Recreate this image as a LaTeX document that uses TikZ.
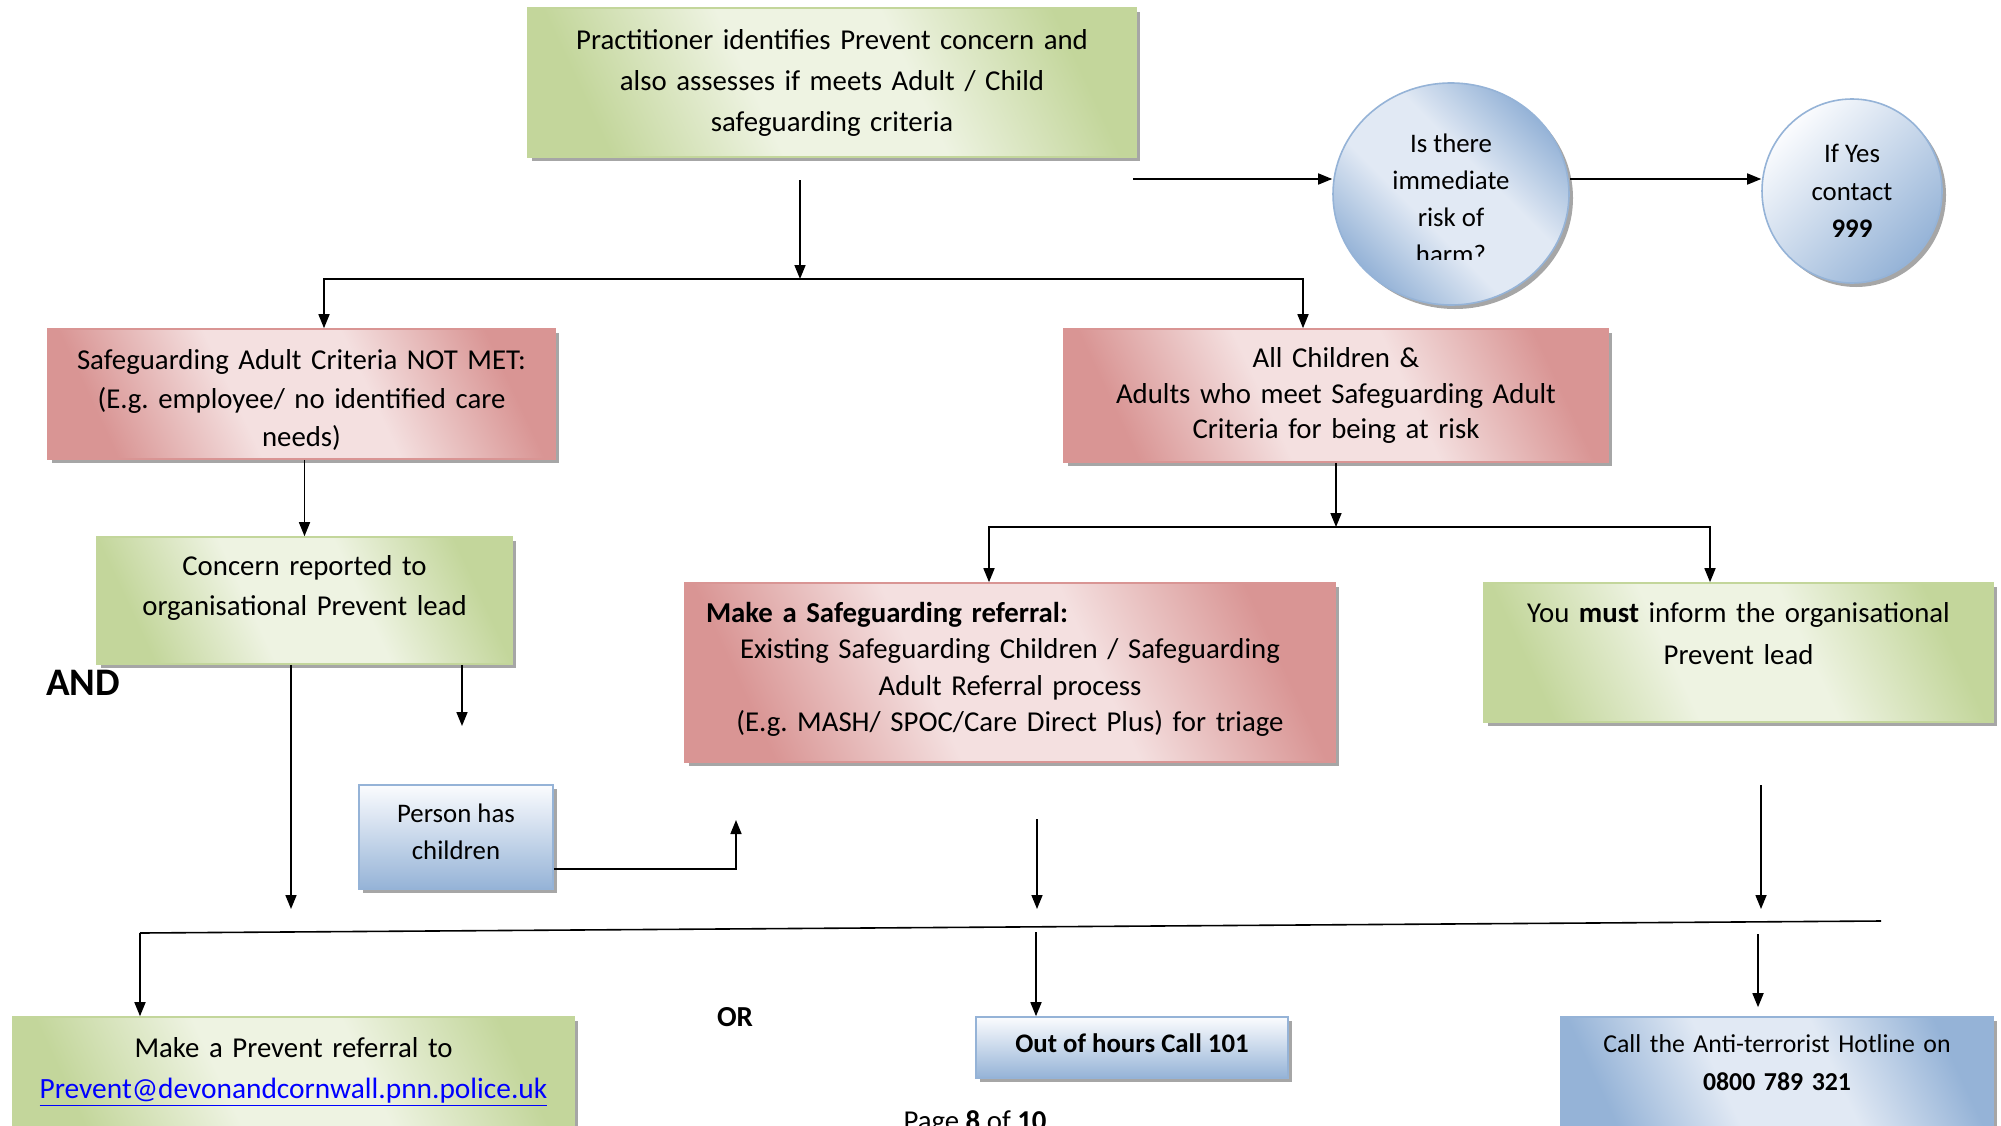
\documentclass[tikz,border=0pt]{standalone}
\usepackage{fontspec}
\setmainfont{Carlito}
\usepackage{tikz}
\usetikzlibrary{arrows.meta,shadows,shapes.geometric,calc}
\def\sink#1{\rule[-#1]{0pt}{0pt}}
\def\rise#1{\rule{0pt}{#1}}
\definecolor{gdark}{HTML}{C3D69B}
\definecolor{glight}{HTML}{EEF3E2}
\definecolor{rdark}{HTML}{D99594}
\definecolor{rlight}{HTML}{F4E0E0}
\definecolor{bdark}{HTML}{95B3D7}
\definecolor{blight}{HTML}{E1E9F4}
\definecolor{bwhite}{HTML}{FBFCFE}
\definecolor{linkblue}{HTML}{0000FF}
\pgfdeclarehorizontalshading{greenfade}{100bp}{color(0bp)=(gdark); color(25bp)=(gdark); color(42bp)=(glight); color(58bp)=(glight); color(75bp)=(gdark); color(100bp)=(gdark)}
\pgfdeclarehorizontalshading{redfade}{100bp}{color(0bp)=(rdark); color(25bp)=(rdark); color(42bp)=(rlight); color(58bp)=(rlight); color(75bp)=(rdark); color(100bp)=(rdark)}
\pgfdeclarehorizontalshading{bluefade}{100bp}{color(0bp)=(bdark); color(25bp)=(bdark); color(42bp)=(blight); color(58bp)=(blight); color(75bp)=(bdark); color(100bp)=(bdark)}
\pgfdeclareverticalshading{bluedown}{100bp}{color(0bp)=(bdark); color(25bp)=(bdark); color(75bp)=(bwhite); color(100bp)=(bwhite)}

\begin{document}
\begin{tikzpicture}[x=0.5pt,y=-0.5pt]
  \tikzstyle{box} = [rectangle,line width=0.8pt,align=center,inner sep=0pt,
    drop shadow={shadow xshift=2pt,shadow yshift=-2pt,fill=black,opacity=.35}];
  \tikzstyle{greenbox} = [box,draw=gdark,shading=greenfade,shading angle=25];
  \tikzstyle{redbox} = [box,draw=rdark,shading=redfade,shading angle=25];
  \tikzstyle{bluebox} = [box,draw=bdark,shading=bluefade,shading angle=25];
  \tikzstyle{blueball} = [ellipse,line width=0.8pt,draw=bdark,inner sep=0pt,align=center,
    shading=bluefade,shading angle=45,
    drop shadow={shadow xshift=2pt,shadow yshift=-2pt,fill=black,opacity=.35}];
  \tikzstyle{line} = [thick];
  \tikzstyle{arr} = [line,-{Triangle[length=7pt,width=5.5pt]}];
  \useasboundingbox[fill=white] (0,0) rectangle (2001,1125);
  \frenchspacing

  \node[greenbox,minimum width=304pt,minimum height=74.5pt,text width=290pt,
    font=\fontsize{14.4}{20.5}\selectfont] (practitioner) at (832,82.5)
    {Practitioner identifies Prevent concern and\\also assesses if meets Adult / Child\\safeguarding criteria};
  \node[blueball,minimum width=118pt,minimum height=111pt] (risk) at (1451,194) {};
  \begin{scope}
    \clip (1340,110) rectangle (1560,259);
    \node[align=center,font=\fontsize{13.4}{18.5}\selectfont] (risktext) at (1451,199)
      {Is there\\immediate\\risk of\\harm?};
  \end{scope}
  \node[blueball,shading=bluedown,minimum width=90pt,minimum height=92pt,
    font=\fontsize{13.4}{18.75}\selectfont] (yes) at (1852,191) {If Yes\\contact\\\textbf{999}};

  \node[redbox,minimum width=253.5pt,minimum height=65pt,text width=245pt,
    font=\fontsize{14.4}{19.3}\selectfont] (notmet) at (301.5,394)
    {\rise{16pt}Safeguarding Adult Criteria NOT MET:\\(E.g. employee/ no identified care\\needs)};
  \node[redbox,minimum width=272pt,minimum height=66.5pt,text width=262pt,
    font=\fontsize{14.4}{17.75}\selectfont] (allch) at (1336,395.5)
    {All Children \&\\Adults who meet Safeguarding Adult\\Criteria for being at risk};

  \node[greenbox,minimum width=207.5pt,minimum height=63.5pt,text width=200pt,
    font=\fontsize{14.4}{20}\selectfont] (concern) at (304.5,600.5)
    {Concern reported to\\organisational Prevent lead\sink{15pt}};
  \node[anchor=west,font=\bfseries\fontsize{19.5}{19.5}\selectfont] (andlabel) at (39,683) {AND};
  \node[box,draw=bdark,shading=bluedown,minimum width=97pt,minimum height=52pt,
    font=\fontsize{13.4}{18.5}\selectfont] (person) at (456,837) {Person has\\children\sink{5.5pt}};

  \node[redbox,minimum width=325pt,minimum height=89.5pt,text width=304pt,inner xsep=10.5pt,
    font=\fontsize{14.4}{18.2}\selectfont] (referral) at (1010,672.5)
    {\textbf{Make a Safeguarding referral:}\hfill\null\\Existing Safeguarding Children / Safeguarding\\Adult Referral process\\(E.g. MASH/ SPOC/Care Direct Plus) for triage\sink{5.5pt}};
  \node[greenbox,minimum width=254.5pt,minimum height=69.5pt,text width=245pt,
    font=\fontsize{14.4}{21}\selectfont] (mustinform) at (1738.5,652.5)
    {You \textbf{must} inform the organisational\\Prevent lead\sink{19pt}};

  \node[greenbox,minimum width=280.5pt,minimum height=59pt,text width=270pt,
    font=\fontsize{14.4}{20.5}\selectfont] (preventref) at (293.5,1076)
    {Make a Prevent referral to\\\textcolor{linkblue}{\fontsize{14.7}{20.5}\selectfont\underline{Prevent@devonandcornwall.pnn.police.uk}}\sink{8.5pt}};
  \node[font=\bfseries\fontsize{14.5}{14.5}\selectfont] (orlabel) at (735,1017) {OR};
  \node[box,draw=bdark,shading=bluedown,minimum width=156pt,minimum height=30.5pt,
    font=\bfseries\fontsize{13.4}{17}\selectfont] (ooh) at (1132,1047.5) {Out of hours Call 101\sink{4pt}};
  \node[bluebox,minimum width=216pt,minimum height=59pt,text width=208pt,
    font=\fontsize{12.9}{19}\selectfont] (hotline) at (1777,1076)
    {Call the Anti-terrorist Hotline on\\\textbf{0800 789 321}\sink{13pt}};
  \node[anchor=base,font=\fontsize{14.4}{14.4}\selectfont] (pagelabel) at (975,1130)
    {Page \textbf{8} of \textbf{10}};

  \coordinate (topfoot) at (800,180);
  \coordinate (split1) at (800,279);
  \coordinate (lbend) at (324,279);
  \coordinate (rbend) at (1303,279);
  \coordinate (riskfoot) at (1133,179);
  \draw[arr] (topfoot) -- (split1);
  \draw[arr] (split1) -- (lbend) -- (lbend |- notmet.north);
  \draw[arr] (split1) -- (rbend) -- (rbend |- allch.north);
  \draw[arr] (riskfoot) -- (riskfoot -| risk.west);
  \draw[arr] (riskfoot -| risk.east) -- (riskfoot -| yes.west);

  \draw[arr] (concern.north |- notmet.south) -- (concern.north);
  \coordinate (andfoot) at (291,909);
  \coordinate (kidfoot) at (462,726);
  \draw[arr] (andfoot |- concern.south) -- (andfoot);
  \draw[arr] (kidfoot |- concern.south) -- (kidfoot);
  \coordinate (kidbend) at (736,869);
  \coordinate (kidtip) at (736,820);
  \draw[arr] (kidbend -| person.east) -- (kidbend) -- (kidtip);

  \coordinate (split2) at (1336,527);
  \coordinate (rbranch) at (989,527);
  \coordinate (mbranch) at (1710,527);
  \draw[arr] (allch.south) -- (split2);
  \draw[arr] (split2) -- (rbranch) -- (rbranch |- referral.north);
  \draw[arr] (split2) -- (mbranch) -- (mbranch |- mustinform.north);

  \coordinate (refstart) at (1037,819);
  \coordinate (reffoot) at (1037,909);
  \coordinate (muststart) at (1761,785);
  \coordinate (mustfoot) at (1761,909);
  \draw[arr] (refstart) -- (reffoot);
  \draw[arr] (muststart) -- (mustfoot);

  \coordinate (barL) at (140,933);
  \coordinate (barR) at (1881,921);
  \coordinate (oohstart) at (1036,932);
  \coordinate (hotstart) at (1758,934);
  \draw[line] (barL) -- (barR);
  \draw[arr] (barL) -- (barL |- preventref.north);
  \draw[arr] (oohstart) -- (oohstart |- ooh.north);
  \draw[arr] (hotstart) -- ($(hotstart |- hotline.north)+(0,-9)$);
\end{tikzpicture}
\end{document}
